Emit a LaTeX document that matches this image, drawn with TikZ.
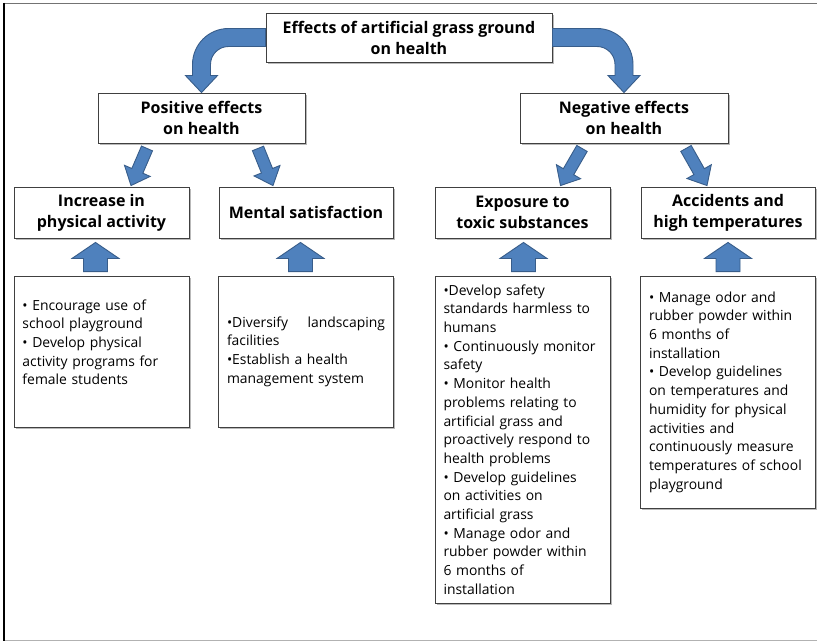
\documentclass[tikz,border=0pt]{standalone}
\usepackage{fontspec}
\setmainfont{Open Sans}
\usetikzlibrary{calc,shadows}

\definecolor{arrowfill}{HTML}{4F81BD}
\definecolor{arrowline}{HTML}{385D8A}

% straight block arrow: #1 tail, #2 tip, #3 shaft half width, #4 head half width, #5 head length
\newcommand\blockarrow[5]{%
  \coordinate (ba-h) at ($(#2)!#5!(#1)$);
  \draw[barrow] ($(#1)!#3!90:(#2)$) -- ($(ba-h)!#3!90:(#2)$) -- ($(ba-h)!#4!90:(#2)$)
    -- (#2) -- ($(ba-h)!#4!-90:(#2)$) -- ($(ba-h)!#3!-90:(#2)$) -- ($(#1)!#3!-90:(#2)$) -- cycle;}

\tikzset{
  box/.style={draw=black!75, line width=0.9pt, fill=white, rectangle, inner sep=0pt,
    drop shadow={shadow xshift=1.6pt, shadow yshift=-1.6pt, fill=black!50, opacity=0.55}},
  headbox/.style={box, align=center, font=\fontsize{16}{21}\selectfont\bfseries},
  notebox/.style={box, align=left, text width=158pt, inner xsep=8.5pt,
    font=\fontsize{13.9}{18.7}\selectfont},
  barrow/.style={draw=arrowline, fill=arrowfill, line width=0.9pt, line join=miter},
}

\begin{document}
\begin{tikzpicture}[x=1pt, y=-1pt]
\useasboundingbox (0,0) rectangle (817,642);
\fill[white] (0,0) rectangle (817,642);

% frame
\draw[black!55, line width=1.3pt] (4,3.5) -- (817,3.5);
\draw[black!30, line width=1.3pt] (4,640.5) -- (817,640.5);
\draw[black, line width=1.4pt] (4,3) -- (4,641);

% title and the two branches
\node[headbox, minimum width=286pt, minimum height=49pt] (top) at (409,37.5)
  {Effects of artificial grass ground\\on health};
\node[headbox, minimum width=207pt, minimum height=50pt] (pos) at (201.5,118)
  {Positive effects\\on health};
\node[headbox, minimum width=208pt, minimum height=50pt] (neg) at (624,118)
  {Negative effects\\on health};

% effects
\node[headbox, minimum width=175pt, minimum height=51pt] (inc) at (101.5,212.5)
  {Increase in\\physical activity};
\node[headbox, minimum width=174pt, minimum height=51pt] (men) at (306,212.5)
  {Mental satisfaction};
\node[headbox, minimum width=175pt, minimum height=51pt] (exp) at (522.5,212.5)
  {Exposure to\\toxic substances};
\node[headbox, minimum width=174pt, minimum height=51pt] (acc) at (728,212.5)
  {Accidents and\\high temperatures};

% measures
\node[notebox, minimum height=151pt] (m1) at (101.5,351.5)
  {• Encourage use of\\school playground\\• Develop physical\\activity programs for\\female students\\\mbox{}};
\node[notebox, minimum height=151pt] (m2) at (306,351.5)
  {•Diversify\hfill landscaping\\facilities\\•Establish a health\\management system};
\node[notebox, minimum height=327pt] (m3) at (522.5,439.5)
  {•Develop safety\\standards harmless to\\humans\\• Continuously monitor\\safety\\• Monitor health\\problems relating to\\artificial grass and\\proactively respond to\\health problems\\• Develop guidelines\\on activities on\\artificial grass\\• Manage odor and\\rubber powder within\\6 months of\\installation};
\node[notebox, minimum height=232pt] (m4) at (728,392)
  {• Manage odor and\\rubber powder within\\6 months of\\installation\\• Develop guidelines\\on temperatures and\\humidity for physical\\activities and\\continuously measure\\temperatures of school\\playground};

% curved arrows from the title
\draw[barrow] let \p1=(top.west), \p2=(pos.north) in
  ({\x1},{\y1+9pt}) -- ({\x2+27pt},{\y1+9pt})
  .. controls ({\x2+7.1pt},{\y1+9pt}) and ({\x2-9pt},{\y1-7.1pt}) .. ({\x2-9pt},{\y1-27pt})
  -- ({\x2-9pt},{\y2+17pt}) -- ({\x2-16pt},{\y2+17pt}) -- (\p2)
  -- ({\x2+16pt},{\y2+17pt}) -- ({\x2+9pt},{\y2+17pt}) -- ({\x2+9pt},{\y1-27pt})
  .. controls ({\x2+9pt},{\y1-17.06pt}) and ({\x2+17.06pt},{\y1-9pt}) .. ({\x2+27pt},{\y1-9pt})
  -- ({\x1},{\y1-9pt}) -- cycle;
\draw[barrow] let \p1=(top.east), \p2=(neg.north) in
  ({\x1},{\y1+9pt}) -- ({\x2-27pt},{\y1+9pt})
  .. controls ({\x2-7.1pt},{\y1+9pt}) and ({\x2+9pt},{\y1-7.1pt}) .. ({\x2+9pt},{\y1-27pt})
  -- ({\x2+9pt},{\y2+17pt}) -- ({\x2+16pt},{\y2+17pt}) -- (\p2)
  -- ({\x2-16pt},{\y2+17pt}) -- ({\x2-9pt},{\y2+17pt}) -- ({\x2-9pt},{\y1-27pt})
  .. controls ({\x2-9pt},{\y1-17.06pt}) and ({\x2-17.06pt},{\y1-9pt}) .. ({\x2-27pt},{\y1-9pt})
  -- ({\x1},{\y1-9pt}) -- cycle;

% slanted arrows to the effects
\coordinate (d1s) at ($(pos.south)+(-54.5pt,-5pt)$);
\coordinate (d1t) at ($(inc.north)+(29.5pt,1pt)$);
\coordinate (d2s) at ($(pos.south)+(56.5pt,-5pt)$);
\coordinate (d2t) at ($(men.north)+(-33pt,1pt)$);
\coordinate (d3s) at ($(neg.south)+(-42pt,-5pt)$);
\coordinate (d3t) at ($(exp.north)+(38pt,1pt)$);
\coordinate (d4s) at ($(neg.south)+(62pt,-5pt)$);
\coordinate (d4t) at ($(acc.north)+(-21pt,1pt)$);
\blockarrow{d1s}{d1t}{6pt}{14pt}{16pt}
\blockarrow{d2s}{d2t}{6pt}{14pt}{16pt}
\blockarrow{d3s}{d3t}{6pt}{14pt}{16pt}
\blockarrow{d4s}{d4t}{6pt}{14pt}{16pt}

% upward arrows from the measures
\coordinate (u1s) at ($(m1.north)+(-6pt,4pt)$);
\coordinate (u1t) at ($(inc.south)+(-6pt,-4pt)$);
\coordinate (u2s) at ($(m2.north)+(-5.5pt,4pt)$);
\coordinate (u2t) at ($(men.south)+(-5.5pt,-4pt)$);
\coordinate (u3s) at ($(m3.north)+(1pt,4pt)$);
\coordinate (u3t) at ($(exp.south)+(1pt,-4pt)$);
\coordinate (u4s) at ($(m4.north)+(0pt,4pt)$);
\coordinate (u4t) at ($(acc.south)+(0pt,-4pt)$);
\blockarrow{u1s}{u1t}{12pt}{23.5pt}{16pt}
\blockarrow{u2s}{u2t}{12pt}{23.5pt}{16pt}
\blockarrow{u3s}{u3t}{12pt}{23.5pt}{16pt}
\blockarrow{u4s}{u4t}{12pt}{23.5pt}{16pt}
\end{tikzpicture}
\end{document}
